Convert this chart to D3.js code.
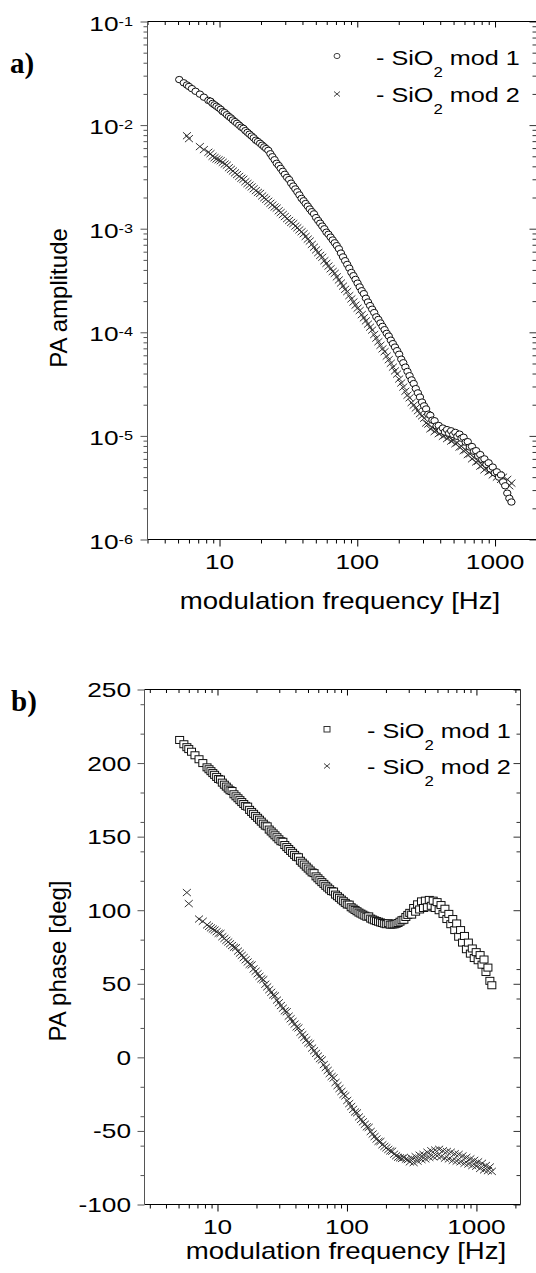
<!DOCTYPE html>
<html><head><meta charset="utf-8">
<script src="https://cdn.jsdelivr.net/npm/d3@7"></script>
<style>
html,body{margin:0;padding:0;background:#fff;}
svg{display:block;}
</style></head><body>
<svg id="chart" width="536" height="1273"></svg>
<script>
// ---------- data ----------
const freq = [5.1, 5.5, 5.8, 6.0, 6.3, 6.7, 7.2, 7.7, 8.3, 8.6,
  8.9, 9.2, 9.5, 9.85, 10.2, 10.55, 10.9, 11.3, 11.7, 12.1,
  12.5, 12.95, 13.4, 13.9, 14.4, 14.9, 15.4, 15.95, 16.5, 17.1,
  17.7, 18.35, 19.0, 19.7, 20.4, 21.1, 21.8, 22.6, 23.4, 24.2,
  25.1, 26.0, 26.9, 27.8, 28.8, 29.8, 30.9, 32.0, 33.1, 34.3,
  35.5, 36.7, 38.0, 39.4, 40.8, 42.2, 43.7, 45.2, 46.8, 48.5,
  50.2, 52.0, 53.8, 55.7, 57.7, 59.7, 61.8, 64.0, 66.3, 68.6,
  71.0, 73.5, 76.1, 78.8, 81.6, 84.5, 87.5, 90.6, 93.8, 97.1,
  100.5, 104.1, 107.8, 111.6, 115.5, 119.6, 123.8, 128.2, 132.7, 137.4,
  142.3, 147.3, 152.5, 157.9, 163.5, 169.2, 175.2, 181.4, 187.8, 194.5,
  201.4, 208.5, 215.8, 223.5, 231.4, 239.6, 248.0, 256.8, 265.9, 275.3,
  285.0, 295.1, 305.5, 316, 327.5, 339, 351.1, 364, 376.4, 390,
  403.5, 418, 432.5, 448, 463.6, 480, 497, 515, 532.8, 552,
  571.1, 591, 612.2, 634, 656.3, 680, 703.6, 729, 754.2, 781,
  808.5, 837, 866.7, 898, 929.1, 962, 996, 1031, 1067.7, 1105,
  1144.5, 1185, 1226.9, 1270, 1315.2];

// PA amplitude, SiO2 mod 1 (circles)
const ampMod1 = [0.0275, 0.0256, 0.0244, 0.0236, 0.0225, 0.0212, 0.0199, 0.0186, 0.0173, 0.0170,
  0.0162, 0.0157, 0.0152, 0.0147, 0.0142, 0.0135, 0.0132, 0.0126, 0.0121, 0.0117,
  0.0112, 0.0108, 0.0104, 0.00997, 0.00955, 0.00930, 0.00884, 0.00850, 0.00817, 0.00784,
  0.00753, 0.00715, 0.00694, 0.00667, 0.00640, 0.00616, 0.00593, 0.00570, 0.00529, 0.00495,
  0.00463, 0.00428, 0.00407, 0.00382, 0.00358, 0.00335, 0.00313, 0.00298, 0.00275, 0.00258,
  0.00242, 0.00227, 0.00212, 0.00196, 0.00186, 0.00175, 0.00165, 0.00155, 0.00146, 0.00139,
  0.00128, 0.00120, 0.00113, 0.00106, 0.000998, 0.000925, 0.000883, 0.000829, 0.000778, 0.000731,
  0.000686, 0.000640, 0.000581, 0.000534, 0.000491, 0.000452, 0.000416, 0.000378, 0.000352, 0.000324,
  0.000298, 0.000274, 0.000252, 0.000236, 0.000213, 0.000196, 0.000181, 0.000167, 0.000155, 0.000141,
  0.000133, 0.000123, 0.000114, 0.000106, 9.77e-5, 9.2e-5, 8.39e-5, 7.77e-5, 7.20e-5, 6.65e-5,
  6.14e-5, 5.5e-5, 5.08e-5, 4.61e-5, 4.19e-5, 3.81e-5, 3.47e-5, 3.2e-5, 2.86e-5, 2.60e-5,
  2.37e-5, 2.12e-5, 1.95e-5, 1.82e-5, 1.62e-5, 1.58e-5, 1.42e-5, 1.40e-5, 1.25e-5, 1.26e-5,
  1.13e-5, 1.19e-5, 1.09e-5, 1.15e-5, 1.06e-5, 1.12e-5, 1.03e-5, 1.08e-5, 9.9e-6, 1.04e-5,
  9.5e-6, 9.7e-6, 8.7e-6, 8.8e-6, 7.8e-6, 7.9e-6, 7.1e-6, 7.2e-6, 6.4e-6, 6.6e-6,
  5.9e-6, 6.0e-6, 5.3e-6, 5.5e-6, 4.8e-6, 5.0e-6, 4.4e-6, 4.5e-6, 4.0e-6, 4.2e-6,
  3.6e-6, 3.3e-6, 2.8e-6, 2.5e-6, 2.3e-6];

// PA amplitude, SiO2 mod 2 (crosses)
const ampMod2 = [null, null, 0.0079, 0.0074, null, null, 0.0062, 0.0058, 0.00547, 0.00530,
  0.00500, 0.00485, 0.00471, 0.00462, 0.00453, 0.00437, 0.00421, 0.00410, 0.00388, 0.00374,
  0.00360, 0.00346, 0.00333, 0.00320, 0.00307, 0.00300, 0.00284, 0.00273, 0.00263, 0.00253,
  0.00243, 0.00233, 0.00224, 0.00219, 0.00207, 0.00199, 0.00192, 0.00184, 0.00176, 0.00169,
  0.00162, 0.00158, 0.00149, 0.00143, 0.00137, 0.00131, 0.00125, 0.00120, 0.00115, 0.00112,
  0.00106, 0.00102, 0.000975, 0.000934, 0.000894, 0.000842, 0.000793, 0.000760, 0.000705, 0.000663,
  0.000624, 0.000587, 0.000553, 0.000530, 0.000491, 0.000463, 0.000436, 0.000410, 0.000386, 0.000370,
  0.000343, 0.000320, 0.000299, 0.000279, 0.000260, 0.000247, 0.000226, 0.000210, 0.000196, 0.000183,
  0.000171, 0.000162, 0.000148, 0.000138, 0.000129, 0.000120, 0.000112, 0.000105, 9.53e-5, 8.79e-5,
  8.11e-5, 7.49e-5, 6.92e-5, 6.5e-5, 5.89e-5, 5.44e-5, 5.02e-5, 4.61e-5, 4.24e-5, 3.95e-5,
  3.54e-5, 3.24e-5, 2.96e-5, 2.70e-5, 2.47e-5, 2.33e-5, 2.10e-5, 1.98e-5, 1.86e-5, 1.75e-5,
  1.64e-5, 1.56e-5, 1.48e-5, 1.33e-5, 1.30e-5, 1.17e-5, 1.20e-5, 1.10e-5, 1.14e-5, 1.05e-5,
  1.08e-5, 9.9e-6, 1.02e-5, 9.4e-6, 9.7e-6, 8.9e-6, 9.1e-6, 8.4e-6, 8.6e-6, 7.8e-6,
  7.9e-6, 7.2e-6, 7.3e-6, 6.6e-6, 6.7e-6, 6.0e-6, 6.2e-6, 5.6e-6, 5.7e-6, 5.1e-6,
  5.2e-6, 4.7e-6, 4.9e-6, 4.5e-6, 4.6e-6, 4.2e-6, 4.4e-6, 4.0e-6, 4.2e-6, 3.8e-6,
  4.0e-6, 3.6e-6, 3.8e-6, 3.3e-6, 3.5e-6];

// PA phase [deg], SiO2 mod 1 (squares)
const phaseMod1 = [215.7, 212.8, 210.8, 209.5, 207.7, 205.3, 202.6, 200.0, 197.1, 195.8,
  194.5, 193.2, 192.0, 190.6, 189.2, 188.8, 186.7, 185.3, 184.0, 182.7,
  181.5, 181.0, 178.8, 177.4, 176.1, 174.8, 173.5, 172.2, 170.9, 170.4,
  168.2, 166.8, 165.5, 164.1, 162.8, 161.5, 160.2, 158.8, 157.5, 157.0,
  154.8, 153.5, 152.2, 150.9, 149.6, 148.2, 146.9, 146.5, 144.3, 142.9,
  141.6, 140.3, 139.0, 137.6, 136.3, 136.0, 133.6, 132.3, 131.0, 129.6,
  128.3, 127.0, 125.7, 125.2, 123.0, 121.7, 120.4, 119.1, 117.9, 116.6,
  115.4, 114.2, 113.0, 112.7, 110.6, 109.5, 108.4, 107.2, 106.1, 105.0,
  103.9, 103.8, 102.0, 101.1, 100.2, 99.3, 98.4, 97.7, 97.0, 96.3,
  95.6, 95.8, 94.3, 93.7, 93.1, 92.6, 92.2, 91.7, 91.3, 90.9,
  90.5, 91.2, 90.2, 90.3, 90.4, 90.8, 91.3, 92.2, 93.2, 93.5,
  95.4, 96.8, 98.2, 97, 101.5, 99, 104, 100.5, 106, 101.5,
  106.5, 102, 107, 103, 106.5, 101.5, 105.5, 100, 103.5, 97.5,
  101, 94, 97.5, 90.5, 94, 86.5, 91, 82, 86.5, 78,
  82.5, 73.5, 78, 70.5, 74, 67.5, 71.5, 66, 69.5, 63,
  66.5, 58, 61, 52, 49];

// PA phase [deg], SiO2 mod 2 (crosses)
const phaseMod2 = [null, null, 112, 104.5, null, null, 94, 92.5, 90, 89,
  88, 87.2, 86.5, 85.4, 84.3, 84.2, 82.0, 80.8, 79.5, 78.4,
  77.2, 76.0, 74.8, 74.5, 72.2, 70.8, 69.3, 67.8, 66.3, 64.8,
  63.2, 62.8, 60.1, 58.5, 56.8, 55.1, 53.4, 52.8, 49.7, 47.9,
  46.0, 44.2, 42.4, 41.8, 38.9, 37.1, 35.2, 33.4, 31.6, 31.0,
  28.0, 26.2, 24.4, 22.6, 20.7, 20.0, 17.1, 15.4, 13.6, 11.8,
  9.9, 9.2, 6.3, 4.5, 2.7, 0.9, -0.9, -1.8, -4.9, -6.9,
  -8.9, -11.0, -13.0, -14.0, -17.1, -19.2, -21.2, -23.2, -25.2, -26.2,
  -29.3, -31.4, -33.4, -35.3, -37.1, -37.7, -40.5, -42.2, -43.8, -45.5,
  -47.2, -47.6, -50.4, -52.1, -53.8, -55.5, -57.1, -57.2, -59.4, -60.5,
  -61.5, -62.6, -63.6, -63.8, -65.8, -66.9, -67.9, -68.3, -68.7, -68.0,
  -69.2, -69.5, -71, -68.5, -71.5, -67.5, -70.5, -66.5, -69.5, -66,
  -69, -64.5, -68, -63.5, -67.5, -63, -67, -62.5, -67.5, -63.5,
  -68.5, -64, -69, -64.5, -70, -65.5, -70.5, -66, -71, -67,
  -72, -68, -72.5, -69, -73.5, -70, -74, -71, -75.5, -72,
  -76.5, -73.5, -77, -74.5, -77.5];

const freqMajorTicks = [10, 100, 1000];
const freqMinorTicks = [3, 4, 5, 6, 7, 8, 9, 20, 30, 40, 50, 60, 70, 80, 90,
  200, 300, 400, 500, 600, 700, 800, 900, 2000];
const ampExponents = [-1, -2, -3, -4, -5, -6];
const phaseMajorTicks = [250, 200, 150, 100, 50, 0, -50, -100];
const seriesNames = ["mod 1", "mod 2"];
const panelTags = ["a)", "b)"];
const xTitle = "modulation frequency [Hz]";
const yTitles = ["PA amplitude", "PA phase [deg]"];

// ---------- drawing ----------
const svg = d3.select("#chart");
const FONT = '"Liberation Sans", Arial, Helvetica, sans-serif';
const SERIF = '"Liberation Serif", "Times New Roman", serif';
const SX = 1.25;

function stext(x, y, sx, anchor, size) {
  return svg.append("text")
    .attr("transform", `translate(${x},${y}) scale(${sx},1)`)
    .attr("text-anchor", anchor)
    .style("font-family", FONT)
    .style("font-size", size + "px")
    .attr("fill", "#000");
}

const topX = d3.scaleLog().domain([3, 2000]).range([147.5, 536.5]);
const topY = d3.scaleLog().domain([1e-6, 1e-1]).range([539.5, 21.5]);
const botX = d3.scaleLog().domain([2.73, 2190]).range([144.5, 520.5]);
const botY = d3.scaleLinear().domain([-100, 250]).range([1204.5, 689.5]);

function drawFrame(x, y, yMajor, yMinor) {
  const [xl, xr] = x.range();
  const [yb, yt] = y.range();
  const sides = [
    {gen: d3.axisBottom, pos: `translate(0,${yb})`, sc: x, major: freqMajorTicks, minor: freqMinorTicks, L: [7, 4], color: "#000"},
    {gen: d3.axisTop, pos: `translate(0,${yt})`, sc: x, major: freqMajorTicks, minor: freqMinorTicks, L: [-6, -3.5], color: "#000"},
    {gen: d3.axisLeft, pos: `translate(${xl},0)`, sc: y, major: yMajor, minor: yMinor, L: [7, 4], color: "#555"},
    {gen: d3.axisRight, pos: `translate(${xr},0)`, sc: y, major: yMajor, minor: yMinor, L: [-7, -4], color: "#333"}
  ];
  sides.forEach(s => {
    [[s.major, s.L[0]], [s.minor, s.L[1]]].forEach(([vals, len]) => {
      const g = svg.append("g").attr("transform", s.pos);
      g.call(s.gen(s.sc).tickValues(vals).tickSize(len).tickSizeOuter(0).tickFormat(""));
      g.select(".domain").remove();
      g.selectAll(".tick line").attr("stroke", s.color).attr("stroke-width", 1);
    });
  });
  svg.append("line").attr("x1", xl).attr("x2", xr).attr("y1", yt).attr("y2", yt).attr("stroke", "#000");
  svg.append("line").attr("x1", xl).attr("x2", xr).attr("y1", yb).attr("y2", yb).attr("stroke", "#000");
  svg.append("line").attr("x1", xl).attr("x2", xl).attr("y1", yt).attr("y2", yb).attr("stroke", "#555");
  svg.append("line").attr("x1", xr).attr("x2", xr).attr("y1", yt).attr("y2", yb).attr("stroke", "#333");
  freqMajorTicks.forEach(v => {
    stext(x(v), yb + 29, SX, "middle", 21).text(String(v));
  });
}

// ---- panel a ----
const ampMajor = ampExponents.map(e => Math.pow(10, e));
const ampMinor = topY.ticks().filter(v => Math.abs(Math.log10(v) - Math.round(Math.log10(v))) > 1e-6);
drawFrame(topX, topY, ampMajor, ampMinor);
ampExponents.forEach(e => {
  const yy = topY(Math.pow(10, e));
  const t = stext(133, yy + 9, SX, "end", 21);
  t.append("tspan").text("10");
  t.append("tspan").attr("dy", -5).style("font-size", "13px").text(String(e));
});

// ---- panel b ----
const phaseMinor = botY.ticks(14).filter(v => !phaseMajorTicks.includes(v));
drawFrame(botX, botY, phaseMajorTicks, phaseMinor);
phaseMajorTicks.forEach(v => {
  stext(131, botY(v) + 7.5, SX, "end", 21).text(String(v));
});

// ---- markers ----
const crossPath = "M-4,-3.5L4,3.5M-4,3.5L4,-3.5";
function crosses(pts, x, y, col) {
  svg.append("g").selectAll("path").data(pts).join("path")
    .attr("transform", d => `translate(${x(d.f)},${y(d.v)})`)
    .attr("d", crossPath).attr("fill", "none").attr("stroke", col).attr("stroke-width", 1);
}
const pick = arr => freq.map((f, i) => ({f, v: arr[i]})).filter(d => d.v != null);

crosses(pick(ampMod2), topX, topY, "#333");
svg.append("g").selectAll("ellipse").data(pick(ampMod1)).join("ellipse")
  .attr("cx", d => topX(d.f)).attr("cy", d => topY(d.v))
  .attr("rx", 3.7).attr("ry", 3.2)
  .attr("fill", "#fff").attr("stroke", "#111").attr("stroke-width", 1);

svg.append("g").selectAll("rect").data(pick(phaseMod1)).join("rect")
  .attr("x", d => botX(d.f) - 4).attr("y", d => botY(d.v) - 3.5)
  .attr("width", 8).attr("height", 7)
  .attr("fill", "#fff").attr("stroke", "#111").attr("stroke-width", 1);
crosses(pick(phaseMod2), botX, botY, "#333");

// ---- legends ----
function legendText(x, y, name) {
  const t = stext(x, y, 1.2, "start", 21);
  t.append("tspan").text("- SiO");
  t.append("tspan").attr("dy", 12).style("font-size", "14px").text("2");
  t.append("tspan").attr("dy", -12).text(" " + name);
}
svg.append("ellipse").attr("cx", 337).attr("cy", 56).attr("rx", 3).attr("ry", 2.6)
  .attr("fill", "#fff").attr("stroke", "#444");
legendText(376, 65, seriesNames[0]);
svg.append("path").attr("transform", "translate(337,94)").attr("d", "M-3,-2.5L3,2.5M-3,2.5L3,-2.5")
  .attr("stroke", "#444").attr("fill", "none");
legendText(376, 102, seriesNames[1]);

svg.append("rect").attr("x", 324).attr("y", 726.5).attr("width", 6).attr("height", 5.5)
  .attr("fill", "#fff").attr("stroke", "#333");
legendText(367, 738, seriesNames[0]);
svg.append("path").attr("transform", "translate(327,766)").attr("d", "M-3,-2.5L3,2.5M-3,2.5L3,-2.5")
  .attr("stroke", "#444").attr("fill", "none");
legendText(367, 774, seriesNames[1]);

// ---- titles ----
stext(340, 609, 1.2, "middle", 23).text(xTitle);
stext(346, 1259, 1.2, "middle", 23).text(xTitle);
svg.append("text").attr("transform", "translate(67,298) rotate(-90)").attr("text-anchor", "middle")
  .style("font-family", FONT).style("font-size", "24px").text(yTitles[0]);
svg.append("text").attr("transform", "translate(66,961) rotate(-90)").attr("text-anchor", "middle")
  .style("font-family", FONT).style("font-size", "24px").text(yTitles[1]);

svg.append("text").attr("x", 10).attr("y", 73).style("font-family", SERIF).style("font-weight", "bold")
  .style("font-size", "29px").text(panelTags[0]);
svg.append("text").attr("x", 11).attr("y", 711).style("font-family", SERIF).style("font-weight", "bold")
  .style("font-size", "29px").text(panelTags[1]);
</script>
</body></html>
